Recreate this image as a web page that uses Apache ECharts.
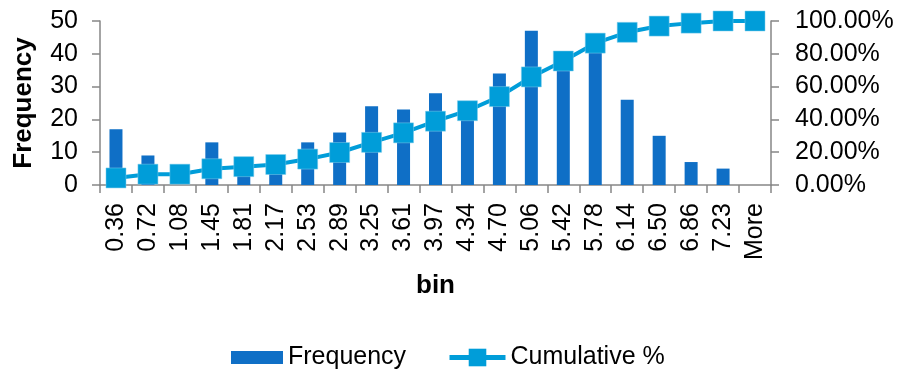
<!DOCTYPE html>
<html>
<head>
<meta charset="utf-8">
<script src="https://cdn.jsdelivr.net/npm/echarts@6/dist/echarts.min.js"></script>
<style>
html,body{margin:0;padding:0;background:#fff;}
#chart{width:901px;height:372px;}
</style>
</head>
<body>
<div id="chart"></div>
<script>
var categories = ['0.36','0.72','1.08','1.45','1.81','2.17','2.53','2.89','3.25','3.61','3.97','4.34','4.70','5.06','5.42','5.78','6.14','6.50','6.86','7.23','More'];
var frequency = [17,9,0,13,5,5,13,16,24,23,28,25,34,47,38,43,26,15,7,5,0];
var cumulativePct = [4.3,6.6,6.6,9.9,11.2,12.5,15.8,19.8,26.0,31.8,38.9,45.3,53.9,65.9,75.6,86.5,93.1,96.9,98.7,100.0,100.0];
var leftTicks = {min:0, max:50, interval:10};
var rightTicks = {min:0, max:100, interval:20};

var FONT = 'Liberation Sans, Arial, sans-serif';
var chart = echarts.init(document.getElementById('chart'), null, {renderer:'canvas'});
var axisLine = {show:true, lineStyle:{color:'#868686', width:1.5}};
var tick = {show:true, length:8, lineStyle:{color:'#868686', width:1.5}};
chart.setOption({
  animation:false,
  grid:{left:100, right:130, top:21, bottom:187, containLabel:false},
  legend:[{
    left:226, top:340,
    itemWidth:52, itemHeight:13, itemGap:0,
    textStyle:{fontFamily:FONT, fontSize:25, color:'#000'},
    data:[{name:'Frequency', icon:'rect'}]
  },{
    left:442, top:340,
    itemWidth:56, itemHeight:22, itemGap:0,
    textStyle:{fontFamily:FONT, fontSize:25, color:'#000'},
    itemStyle:{borderWidth:0},
    lineStyle:{width:5},
    data:[{name:'Cumulative %'}]
  }],
  xAxis:{
    type:'category', data:categories,
    name:'bin', nameLocation:'middle', nameGap:88,
    nameTextStyle:{fontFamily:FONT, fontSize:26, fontWeight:'bold', color:'#000'},
    axisLine:axisLine,
    axisTick:tick,
    axisLabel:{rotate:90, fontFamily:FONT, fontSize:25, color:'#000', margin:18, interval:0}
  },
  yAxis:[{
    type:'value', min:leftTicks.min, max:leftTicks.max, interval:leftTicks.interval,
    name:'Frequency', nameLocation:'middle', nameGap:63, nameRotate:90,
    nameTextStyle:{fontFamily:FONT, fontSize:26, fontWeight:'bold', color:'#000'},
    axisLine:axisLine,
    axisTick:tick,
    splitLine:{show:false},
    axisLabel:{fontFamily:FONT, fontSize:25, color:'#000', margin:22}
  },{
    type:'value', min:rightTicks.min, max:rightTicks.max, interval:rightTicks.interval,
    position:'right',
    axisLine:axisLine,
    axisTick:tick,
    splitLine:{show:false},
    axisLabel:{fontFamily:FONT, fontSize:25, color:'#000', margin:24,
      formatter:function(v){return v.toFixed(2)+'%';}}
  }],
  series:[{
    name:'Frequency', type:'bar', data:frequency, yAxisIndex:0,
    barWidth:13,
    itemStyle:{color:'#0F6FC6'}
  },{
    name:'Cumulative %', type:'line', data:cumulativePct, yAxisIndex:1,
    symbol:'rect', symbolSize:20, showAllSymbol:true,
    lineStyle:{color:'#009DD9', width:4},
    itemStyle:{color:'#009DD9', borderColor:'#7fcdeb', borderWidth:0.5}
  }]
});
</script>
</body>
</html>
